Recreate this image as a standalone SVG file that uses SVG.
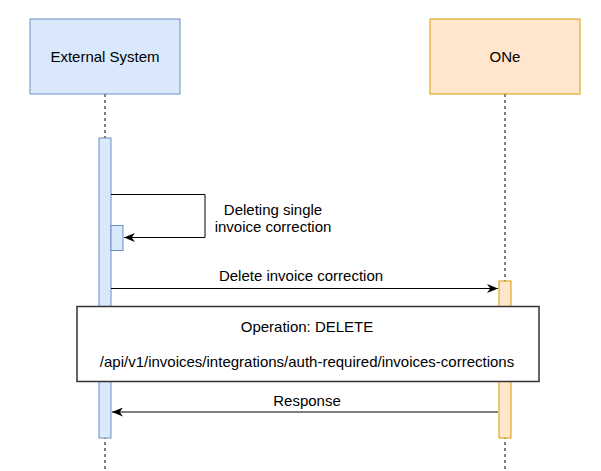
<svg xmlns="http://www.w3.org/2000/svg" width="601" height="471" viewBox="0 0 601 471">
  <style>
    text { font-family: "Liberation Sans", Arial, sans-serif; font-size: 15px; fill: #000; text-anchor: middle; }
    .blue { fill: #dae8fc; stroke: #6c8ebf; stroke-width: 1; }
    .orange { fill: #ffe6cc; stroke: #d79b00; stroke-width: 1; }
    .life { stroke: #000; stroke-width: 1; stroke-dasharray: 3 3; fill: none; }
    .msg { stroke: #000; stroke-width: 1; fill: none; }
  </style>
  <defs>
    <marker id="arr" viewBox="0 0 11 9" refX="11" refY="4.5" markerWidth="11" markerHeight="9" markerUnits="userSpaceOnUse" orient="auto">
      <path d="M0,0 L11,4.5 L0,9 L3.3,4.5 Z" fill="#000"/>
    </marker>
  </defs>
  <rect width="601" height="471" fill="#fff"/>

  <g id="lifelines">
    <line class="life" x1="105" y1="94" x2="105" y2="471"/>
    <line class="life" x1="505" y1="94" x2="505" y2="471"/>
  </g>

  <g id="external-system">
    <rect class="blue" x="30" y="19" width="150" height="75"/>
    <text x="105" y="62">External System</text>
  </g>

  <g id="one">
    <rect class="orange" x="430" y="19" width="150" height="75"/>
    <text x="505" y="62">ONe</text>
  </g>

  <g id="external-activation">
    <rect class="blue" x="99" y="138" width="12" height="300"/>
  </g>

  <g id="self-activation">
    <rect class="blue" x="111" y="225.5" width="12" height="25"/>
  </g>

  <g id="one-activation">
    <rect class="orange" x="499" y="281" width="12" height="157"/>
  </g>

  <g id="connectors">
    <path class="msg" d="M111,194.5 H205 V237.5 H124" marker-end="url(#arr)"/>
    <line class="msg" x1="111" y1="288.5" x2="498" y2="288.5" marker-end="url(#arr)"/>
    <line class="msg" x1="498" y1="412" x2="112" y2="412" marker-end="url(#arr)" stroke="#333"/>
  </g>

  <g id="labels">
    <text x="273" y="215">Deleting single</text>
    <text x="273" y="232">invoice correction</text>
    <text x="301" y="281">Delete invoice correction</text>
    <text x="307" y="406">Response</text>
  </g>

  <g id="operation-note">
    <rect x="77" y="306.5" width="462" height="75" fill="#fff" stroke="#333" stroke-width="1.5"/>
    <text x="307" y="332">Operation: DELETE</text>
    <text x="307" y="367">/api/v1/invoices/integrations/auth-required/invoices-corrections</text>
  </g>
</svg>
